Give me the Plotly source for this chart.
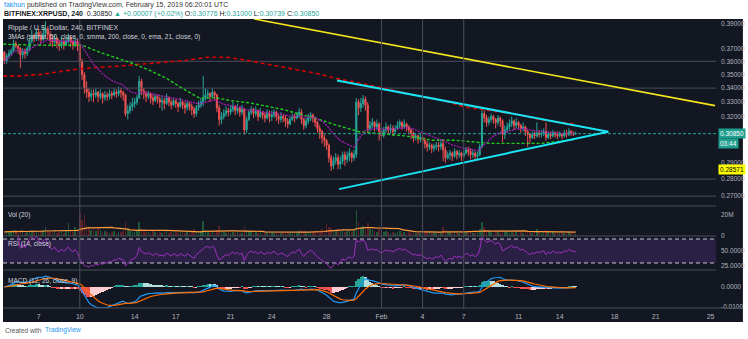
import math
import pandas as pd
import plotly.graph_objects as go
from plotly.subplots import make_subplots

# ---------------- data (4h candles, BITFINEX XRPUSD) ----------------
start_time = "2019-01-04 12:00"
first_open = 0.367

close_days = [
    [0.360, 0.364, 0.366],
    [0.368, 0.374, 0.372, 0.370, 0.365, 0.368],
    [0.366, 0.370, 0.376, 0.380, 0.378, 0.383],
    [0.380, 0.377, 0.382, 0.386, 0.381, 0.377],
    [0.375, 0.378, 0.374, 0.372, 0.376, 0.373],
    [0.376, 0.379, 0.375, 0.373, 0.376, 0.372],
    [0.360, 0.350, 0.340, 0.337, 0.334, 0.336],
    [0.335, 0.337, 0.334, 0.336, 0.333, 0.335],
    [0.334, 0.336, 0.335, 0.337, 0.336, 0.338],
    [0.337, 0.335, 0.322, 0.324, 0.327, 0.329],
    [0.330, 0.333, 0.345, 0.338, 0.336, 0.334],
    [0.336, 0.333, 0.331, 0.334, 0.332, 0.330],
    [0.331, 0.329, 0.333, 0.330, 0.328, 0.331],
    [0.329, 0.327, 0.330, 0.328, 0.326, 0.329],
    [0.327, 0.325, 0.322, 0.326, 0.328, 0.330],
    [0.333, 0.335, 0.336, 0.334, 0.337, 0.335],
    [0.326, 0.318, 0.320, 0.322, 0.324, 0.323],
    [0.325, 0.327, 0.324, 0.326, 0.323, 0.325],
    [0.311, 0.318, 0.323, 0.325, 0.322, 0.324],
    [0.320, 0.323, 0.321, 0.319, 0.322, 0.320],
    [0.321, 0.323, 0.320, 0.318, 0.320, 0.319],
    [0.317, 0.315, 0.318, 0.320, 0.319, 0.321],
    [0.323, 0.318, 0.314, 0.317, 0.319, 0.321],
    [0.319, 0.316, 0.312, 0.310, 0.306, 0.304],
    [0.301, 0.293, 0.288, 0.291, 0.293, 0.289],
    [0.291, 0.295, 0.292, 0.294, 0.296, 0.293],
    [0.295, 0.330, 0.326, 0.329, 0.332, 0.328],
    [0.312, 0.314, 0.316, 0.313, 0.315, 0.310],
    [0.307, 0.311, 0.313, 0.311, 0.312, 0.310],
    [0.312, 0.314, 0.316, 0.313, 0.315, 0.313],
    [0.311, 0.309, 0.306, 0.307, 0.305, 0.306],
    [0.304, 0.302, 0.300, 0.301, 0.299, 0.300],
    [0.301, 0.300, 0.302, 0.298, 0.293, 0.295],
    [0.296, 0.294, 0.297, 0.295, 0.296, 0.294],
    [0.296, 0.298, 0.297, 0.295, 0.296, 0.294],
    [0.295, 0.300, 0.322, 0.319, 0.316, 0.318],
    [0.320, 0.318, 0.316, 0.319, 0.317, 0.308],
    [0.311, 0.313, 0.315, 0.317, 0.314, 0.316],
    [0.314, 0.312, 0.313, 0.310, 0.308, 0.306],
    [0.308, 0.307, 0.309, 0.308, 0.309, 0.310],
    [0.306, 0.308, 0.307, 0.309, 0.308, 0.307],
    [0.308, 0.307, 0.309, 0.308, 0.310, 0.309],
    [0.3083, 0.3085],
]
high_days = [
    [0.368, 0.366, 0.369],
    [0.370, 0.377, 0.376, 0.373, 0.371, 0.370],
    [0.370, 0.372, 0.378, 0.385, 0.382, 0.386],
    [0.386, 0.384, 0.388, 0.392, 0.388, 0.384],
    [0.380, 0.381, 0.379, 0.377, 0.379, 0.378],
    [0.379, 0.382, 0.380, 0.377, 0.379, 0.378],
    [0.374, 0.362, 0.352, 0.345, 0.340, 0.339],
    [0.339, 0.340, 0.338, 0.339, 0.337, 0.338],
    [0.337, 0.339, 0.338, 0.340, 0.339, 0.341],
    [0.340, 0.338, 0.336, 0.328, 0.330, 0.333],
    [0.333, 0.335, 0.349, 0.347, 0.340, 0.338],
    [0.338, 0.337, 0.335, 0.336, 0.335, 0.334],
    [0.334, 0.333, 0.336, 0.334, 0.332, 0.333],
    [0.332, 0.330, 0.333, 0.331, 0.330, 0.331],
    [0.330, 0.329, 0.327, 0.328, 0.331, 0.333],
    [0.349, 0.340, 0.339, 0.337, 0.340, 0.338],
    [0.336, 0.328, 0.323, 0.325, 0.327, 0.326],
    [0.328, 0.330, 0.328, 0.329, 0.327, 0.328],
    [0.326, 0.320, 0.325, 0.327, 0.326, 0.327],
    [0.325, 0.326, 0.324, 0.323, 0.325, 0.324],
    [0.324, 0.325, 0.324, 0.322, 0.323, 0.322],
    [0.321, 0.319, 0.320, 0.322, 0.322, 0.323],
    [0.326, 0.325, 0.319, 0.319, 0.322, 0.323],
    [0.322, 0.320, 0.317, 0.314, 0.311, 0.308],
    [0.305, 0.302, 0.295, 0.294, 0.296, 0.295],
    [0.294, 0.297, 0.297, 0.297, 0.299, 0.297],
    [0.298, 0.333, 0.332, 0.333, 0.335, 0.334],
    [0.330, 0.317, 0.319, 0.317, 0.318, 0.316],
    [0.312, 0.313, 0.316, 0.314, 0.315, 0.314],
    [0.314, 0.317, 0.318, 0.317, 0.318, 0.316],
    [0.314, 0.312, 0.310, 0.309, 0.308, 0.309],
    [0.307, 0.306, 0.304, 0.303, 0.302, 0.302],
    [0.303, 0.303, 0.305, 0.305, 0.300, 0.297],
    [0.298, 0.297, 0.299, 0.298, 0.298, 0.297],
    [0.299, 0.300, 0.300, 0.299, 0.298, 0.297],
    [0.297, 0.302, 0.325, 0.324, 0.321, 0.320],
    [0.322, 0.321, 0.319, 0.321, 0.320, 0.318],
    [0.314, 0.316, 0.318, 0.320, 0.318, 0.319],
    [0.317, 0.315, 0.316, 0.314, 0.311, 0.309],
    [0.310, 0.310, 0.316, 0.311, 0.311, 0.312],
    [0.316, 0.310, 0.310, 0.311, 0.310, 0.310],
    [0.310, 0.309, 0.311, 0.311, 0.312, 0.311],
    [0.3100, 0.3100],
]
low_days = [
    [0.358, 0.358, 0.362],
    [0.364, 0.367, 0.370, 0.366, 0.355, 0.362],
    [0.362, 0.364, 0.368, 0.374, 0.375, 0.376],
    [0.376, 0.373, 0.376, 0.380, 0.377, 0.372],
    [0.371, 0.373, 0.370, 0.368, 0.370, 0.369],
    [0.372, 0.374, 0.371, 0.369, 0.371, 0.368],
    [0.355, 0.346, 0.336, 0.333, 0.330, 0.331],
    [0.330, 0.333, 0.330, 0.332, 0.329, 0.331],
    [0.331, 0.332, 0.332, 0.334, 0.333, 0.334],
    [0.333, 0.331, 0.320, 0.318, 0.322, 0.324],
    [0.326, 0.328, 0.332, 0.335, 0.332, 0.330],
    [0.332, 0.329, 0.328, 0.330, 0.329, 0.326],
    [0.324, 0.325, 0.328, 0.327, 0.325, 0.327],
    [0.326, 0.323, 0.326, 0.325, 0.322, 0.324],
    [0.324, 0.321, 0.319, 0.320, 0.324, 0.326],
    [0.327, 0.331, 0.332, 0.330, 0.333, 0.331],
    [0.323, 0.314, 0.315, 0.318, 0.320, 0.320],
    [0.321, 0.323, 0.321, 0.322, 0.320, 0.321],
    [0.308, 0.309, 0.317, 0.321, 0.319, 0.320],
    [0.317, 0.319, 0.318, 0.316, 0.318, 0.316],
    [0.317, 0.319, 0.317, 0.315, 0.316, 0.316],
    [0.313, 0.312, 0.314, 0.317, 0.316, 0.318],
    [0.319, 0.315, 0.311, 0.312, 0.315, 0.317],
    [0.316, 0.313, 0.309, 0.305, 0.302, 0.300],
    [0.298, 0.290, 0.285, 0.286, 0.289, 0.286],
    [0.286, 0.289, 0.288, 0.290, 0.291, 0.290],
    [0.291, 0.293, 0.321, 0.323, 0.326, 0.324],
    [0.309, 0.310, 0.312, 0.310, 0.311, 0.304],
    [0.304, 0.306, 0.309, 0.308, 0.309, 0.307],
    [0.309, 0.311, 0.312, 0.311, 0.312, 0.310],
    [0.308, 0.305, 0.303, 0.304, 0.302, 0.303],
    [0.301, 0.299, 0.297, 0.298, 0.296, 0.297],
    [0.298, 0.297, 0.298, 0.291, 0.290, 0.292],
    [0.292, 0.291, 0.293, 0.292, 0.293, 0.291],
    [0.293, 0.295, 0.294, 0.292, 0.293, 0.291],
    [0.292, 0.294, 0.299, 0.316, 0.313, 0.314],
    [0.316, 0.315, 0.312, 0.314, 0.313, 0.303],
    [0.305, 0.309, 0.311, 0.313, 0.311, 0.312],
    [0.311, 0.309, 0.310, 0.307, 0.300, 0.302],
    [0.305, 0.305, 0.306, 0.306, 0.306, 0.307],
    [0.304, 0.305, 0.305, 0.306, 0.306, 0.305],
    [0.306, 0.305, 0.306, 0.306, 0.307, 0.307],
    [0.3070, 0.3078],
]
volume_days = [  # millions
    [4, 3.5, 5],
    [4, 6, 3.5, 3, 7, 4],
    [3, 4, 5, 6, 4, 5],
    [4, 5, 6, 9, 5, 4],
    [4, 6, 3, 4, 5, 3],
    [5, 12, 6, 4, 9, 5],
    [22, 15, 20, 10, 7, 6],
    [7, 5, 9, 6, 4, 5],
    [4, 3, 4, 5, 3, 4],
    [4, 5, 13, 7, 5, 4],
    [4, 5, 13, 8, 5, 4],
    [4, 3, 5, 4, 3, 4],
    [3, 4, 5, 3, 4, 3],
    [4, 3, 4, 5, 3, 4],
    [3, 4, 7, 4, 3, 5],
    [14, 6, 4, 3, 4, 3],
    [6, 10, 5, 4, 3, 4],
    [3, 4, 3, 4, 3, 3],
    [9, 6, 5, 4, 3, 4],
    [3, 4, 3, 3, 4, 3],
    [4, 3, 4, 3, 3, 4],
    [3, 4, 3, 4, 3, 3],
    [5, 6, 5, 3, 4, 3],
    [4, 5, 6, 5, 7, 6],
    [11, 9, 8, 6, 5, 7],
    [5, 6, 4, 5, 6, 4],
    [5, 25, 13, 9, 10, 7],
    [12, 7, 6, 5, 4, 7],
    [5, 4, 5, 4, 3, 4],
    [3, 4, 5, 3, 4, 3],
    [4, 3, 4, 3, 4, 3],
    [3, 4, 5, 4, 3, 3],
    [3, 4, 3, 9, 7, 4],
    [4, 3, 4, 3, 3, 4],
    [3, 4, 3, 4, 3, 3],
    [4, 7, 13, 9, 6, 5],
    [4, 3, 5, 4, 3, 7],
    [5, 4, 3, 4, 3, 4],
    [3, 4, 3, 4, 6, 4],
    [3, 4, 7, 5, 3, 4],
    [6, 4, 3, 4, 3, 3],
    [3, 4, 3, 3, 4, 3],
    [3, 2],
]

# moving averages (smma 200 red, smma 50 green)
red_ma_dates = ["2019-01-04 10:00", "2019-01-05 15:00", "2019-01-07 02:00", "2019-01-08 13:00",
                "2019-01-09 19:00", "2019-01-11 06:00", "2019-01-12 17:00", "2019-01-14 09:00",
                "2019-01-16 08:00", "2019-01-17 19:00", "2019-01-19 06:00", "2019-01-20 17:00",
                "2019-01-22 04:00", "2019-01-23 19:00", "2019-01-25 06:00", "2019-01-27 06:00",
                "2019-01-28 17:00", "2019-01-30 14:00", "2019-02-03 12:00", "2019-02-05 10:00",
                "2019-02-07 04:00", "2019-02-09 13:00", "2019-02-10 19:00", "2019-02-12 17:00",
                "2019-02-14 14:00", "2019-02-15 04:00"]
red_ma_vals = [0.349, 0.349, 0.350, 0.352, 0.354, 0.3554, 0.3562, 0.3577, 0.3592, 0.3608,
               0.3631, 0.3631, 0.3608, 0.3577, 0.3546, 0.3508, 0.3471, 0.3434, 0.3348, 0.3313,
               0.3264, 0.3230, 0.3216, 0.3176, 0.3156, 0.3149]
green_ma_dates = ["2019-01-04 10:00", "2019-01-07 02:00", "2019-01-09 05:00", "2019-01-10 05:00",
                  "2019-01-11 11:00", "2019-01-12 17:00", "2019-01-13 20:00", "2019-01-15 02:00",
                  "2019-01-16 08:00", "2019-01-17 12:00", "2019-01-18 17:00", "2019-01-19 23:00",
                  "2019-01-21 02:00", "2019-01-22 10:00", "2019-01-24 18:00", "2019-01-27 06:00",
                  "2019-01-28 17:00", "2019-01-30 09:00", "2019-02-01 01:00", "2019-02-02 19:00",
                  "2019-02-04 16:00", "2019-02-06 10:00", "2019-02-08 02:00", "2019-02-09 00:00",
                  "2019-02-10 19:00", "2019-02-12 16:00", "2019-02-13 22:00", "2019-02-15 04:00"]
green_ma_vals = [0.3734, 0.3725, 0.3725, 0.3725, 0.3670, 0.3623, 0.3585, 0.3532, 0.3471, 0.3397,
                 0.3330, 0.3330, 0.3309, 0.3294, 0.3250, 0.3186, 0.3142, 0.3098, 0.3084, 0.3070,
                 0.3042, 0.3042, 0.3028, 0.3022, 0.3022, 0.3022, 0.3035, 0.3049]

# drawn lines
yellow_line = (["2019-01-22 17:27", "2019-02-25 07:50"], [0.3940, 0.3275])
cyan_upper = (["2019-01-28 18:15", "2019-02-17 13:05"], [0.3456, 0.3098])
cyan_lower = (["2019-01-28 21:49", "2019-02-17 13:05"], [0.2741, 0.3098])
level_lines = [0.36, 0.34, 0.28, 0.27]
vline_dates = ["2019-01-10", "2019-02-01", "2019-02-04", "2019-02-07"]
last_price = 0.3085

tick_dates = ["2019-01-07", "2019-01-10", "2019-01-14", "2019-01-17", "2019-01-21", "2019-01-24",
              "2019-01-28", "2019-02-01", "2019-02-04", "2019-02-07", "2019-02-11", "2019-02-14",
              "2019-02-18", "2019-02-21", "2019-02-25"]
tick_labels = ["7", "10", "14", "17", "21", "24", "28", "Feb", "4", "7", "11", "14", "18", "21", "25"]
price_ticks = [0.27, 0.28, 0.29, 0.32, 0.33, 0.34, 0.35, 0.36, 0.37, 0.39]

x_range = ["2019-01-04 09:36", "2019-02-25 09:36"]

# ---------------- build series ----------------
closes = [v for d in close_days for v in d]
highs = [v for d in high_days for v in d]
lows = [v for d in low_days for v in d]
vols = [v for d in volume_days for v in d]
n = len(closes)
times = pd.date_range(start_time, periods=n, freq="4h")
opens = [first_open] + closes[:-1]
highs = [max(h, o, c) for h, o, c in zip(highs, opens, closes)]
lows = [min(l, o, c) for l, o, c in zip(lows, opens, closes)]

cs = pd.Series(closes, index=times)
ema21 = cs.ewm(span=21, adjust=True).mean()
delta = cs.diff()
gain = delta.clip(lower=0).ewm(alpha=1 / 14, adjust=True).mean()
loss = (-delta.clip(upper=0)).ewm(alpha=1 / 14, adjust=True).mean()
rsi = 100 - 100 / (1 + gain / loss)
macd = cs.ewm(span=12, adjust=False).mean() - cs.ewm(span=26, adjust=False).mean()
signal = macd.ewm(span=9, adjust=False).mean()
hist = macd - signal
vol_ma = pd.Series(vols).rolling(20, min_periods=1).mean()

hist_colors = []
prev = 0.0
for h in hist:
    if h >= 0:
        hist_colors.append("#26a69a" if h >= prev else "#b2dfdb")
    else:
        hist_colors.append("#ffcdd2" if h >= prev else "#ef5350")
    prev = h
vol_colors = ["rgba(38,140,70,0.55)" if c >= o else "rgba(150,40,45,0.55)" for o, c in zip(opens, closes)]

# ---------------- figure ----------------
BG = "#131722"
AX = "#b2b5be"
GRID = "#4a4e5a"
FONT = "Liberation Sans"

fig = make_subplots(rows=4, cols=1, shared_xaxes=True, vertical_spacing=0,
                    row_heights=[187, 30, 34, 38])

xl = pd.to_datetime(x_range)

for lv in level_lines:
    fig.add_trace(go.Scatter(x=xl, y=[lv, lv], mode="lines", line=dict(color=GRID, width=1),
                             hoverinfo="skip"), row=1, col=1)

fig.add_trace(go.Scatter(x=pd.to_datetime(red_ma_dates), y=red_ma_vals, mode="lines",
                         line=dict(color="#d50000", width=1.6, dash="4px,3px")), row=1, col=1)
fig.add_trace(go.Scatter(x=pd.to_datetime(green_ma_dates), y=green_ma_vals, mode="lines",
                         line=dict(color="#1fcc1f", width=1.4, dash="3px,2px")), row=1, col=1)
fig.add_trace(go.Scatter(x=times, y=ema21, mode="lines",
                         line=dict(color="#a020b0", width=1.3, dash="2px,1px")), row=1, col=1)

fig.add_trace(go.Scatter(x=xl, y=[last_price, last_price], mode="lines",
                         line=dict(color="#26a69a", width=1, dash="3px,2px")), row=1, col=1)

fig.add_trace(go.Candlestick(x=times, open=opens, high=highs, low=lows, close=closes,
                             increasing=dict(line=dict(color="#26a69a", width=1), fillcolor="#26a69a"),
                             decreasing=dict(line=dict(color="#ef5350", width=1), fillcolor="#ef5350"),
                             whiskerwidth=0), row=1, col=1)

fig.add_trace(go.Scatter(x=pd.to_datetime(yellow_line[0]), y=yellow_line[1], mode="lines",
                         line=dict(color="#f5e61b", width=1.6)), row=1, col=1)
for ln in (cyan_upper, cyan_lower):
    fig.add_trace(go.Scatter(x=pd.to_datetime(ln[0]), y=ln[1], mode="lines",
                             line=dict(color="#19e6f5", width=2)), row=1, col=1)

# volume
bar_w = 4 * 3600 * 1000
fig.add_trace(go.Bar(x=times, y=vols, marker=dict(color=vol_colors, line=dict(width=0)),
                     width=bar_w * 0.7), row=2, col=1)
fig.add_trace(go.Scatter(x=times, y=vol_ma, mode="lines", line=dict(color="#ff9a3c", width=1.2)),
              row=2, col=1)

# RSI
fig.add_trace(go.Scatter(x=xl, y=[70, 70], mode="lines", line=dict(color="rgba(0,0,0,0)", width=0)),
              row=3, col=1)
fig.add_trace(go.Scatter(x=xl, y=[30, 30], mode="lines", fill="tonexty",
                         fillcolor="rgba(126,70,194,0.22)", line=dict(color="rgba(0,0,0,0)", width=0)),
              row=3, col=1)
for lv in (70, 30):
    fig.add_trace(go.Scatter(x=xl, y=[lv, lv], mode="lines",
                             line=dict(color="#c8c8d0", width=1, dash="4px,3px")), row=3, col=1)
fig.add_trace(go.Scatter(x=times, y=rsi, mode="lines", line=dict(color="#a030c0", width=1)),
              row=3, col=1)

# MACD
fig.add_trace(go.Bar(x=times, y=hist, marker=dict(color=hist_colors, line=dict(width=0)),
                     width=bar_w), row=4, col=1)
fig.add_trace(go.Scatter(x=times, y=macd, mode="lines", line=dict(color="#2196f3", width=1.2)),
              row=4, col=1)
fig.add_trace(go.Scatter(x=times, y=signal, mode="lines", line=dict(color="#ff6d00", width=1.2)),
              row=4, col=1)

# ---------------- layout ----------------
W, H = 748, 339
ML, MR, MT, MB = 3, 30, 19, 31
PW, PH = W - ML - MR, H - MT - MB


def px_x(px):
    return (px - ML) / PW


def px_y(py):
    return (H - MB - py) / PH


fig.update_layout(
    width=W, height=H, margin=dict(l=ML, r=MR, t=MT, b=MB),
    paper_bgcolor="white", plot_bgcolor=BG, showlegend=False, bargap=0,
    font=dict(family=FONT, size=7, color=AX),
    hovermode=False,
)

for i in range(1, 5):
    fig.update_xaxes(row=i, col=1, range=xl, showgrid=False, zeroline=False,
                     rangeslider=dict(visible=False), showline=False, ticks="")
fig.update_xaxes(row=4, col=1, tickmode="array", tickvals=pd.to_datetime(tick_dates),
                 ticktext=tick_labels, tickfont=dict(size=7, color=AX), ticklabelstandoff=3)

lo, hi = math.log10(0.2644), math.log10(0.3940)
fig.update_yaxes(row=1, col=1, type="log", range=[lo, hi], side="right", showgrid=False,
                 zeroline=False, tickmode="array", tickvals=price_ticks,
                 ticktext=[f"{v:.5f}" for v in price_ticks], tickfont=dict(size=6.5, color=AX),
                 ticks="", ticklabelstandoff=4)
fig.update_yaxes(row=2, col=1, range=[0, 28.6], side="right", showgrid=False, zeroline=False,
                 tickmode="array", tickvals=[0, 20], ticktext=["0", "20M"],
                 tickfont=dict(size=6.5, color=AX), ticks="", ticklabelstandoff=4)
fig.update_yaxes(row=3, col=1, range=[18.3, 75], side="right", showgrid=False, zeroline=False,
                 tickmode="array", tickvals=[25, 50], ticktext=["25.0000", "50.0000"],
                 tickfont=dict(size=6.5, color=AX), ticks="", ticklabelstandoff=4)
fig.update_yaxes(row=4, col=1, range=[-0.0105, 0.0085], side="right", showgrid=False, zeroline=False,
                 tickmode="array", tickvals=[-0.01, 0.0], ticktext=["-0.0100", "0.0000"],
                 tickfont=dict(size=6.5, color=AX), ticks="", ticklabelstandoff=4)

shapes = []
shapes.append(dict(type="rect", xref="paper", yref="paper", x0=px_x(3), x1=px_x(745),
                   y0=px_y(322), y1=px_y(19), fillcolor=BG, line=dict(width=0), layer="below"))
for py in (206, 236, 270, 308):
    shapes.append(dict(type="line", xref="paper", yref="paper", x0=0, x1=px_x(745) if py == 308 else 1,
                       y0=px_y(py), y1=px_y(py), line=dict(color=GRID, width=1)))
for d in vline_dates:
    shapes.append(dict(type="line", xref="x", yref="paper", x0=d, x1=d, y0=0, y1=1,
                       line=dict(color=GRID, width=1)))
fig.update_layout(shapes=shapes)

ann = []


def text(px, py, s, size=7, color="#d1d4dc", anchor="left"):
    ann.append(dict(xref="paper", yref="paper", x=px_x(px), y=px_y(py), text=s, showarrow=False,
                    xanchor=anchor, yanchor="middle", font=dict(size=size, color=color, family=FONT)))


G = "#26a69a"
text(2, 5, "<span style='color:#2196f3'>fakhun</span> published on TradingView.com, February 15, 2019 06:20:01 UTC",
     size=7, color="#333333")
text(2, 14, "<b>BITFINEX:XRPUSD, 240</b>  0.30850 <span style='color:%s'>▲ +0.00007 (+0.02%%)</span> "
     "O:<span style='color:%s'>0.30776</span> H:<span style='color:%s'>0.31000</span> "
     "L:<span style='color:%s'>0.30739</span> C:<span style='color:%s'>0.30850</span>" % (G, G, G, G, G),
     size=7, color="#131722")
text(6, 28, "Ripple / U.S. Dollar, 240, BITFINEX", size=7)
text(6, 37, "3MAs (smma, 50, close, 0, smma, 200, close, 0, ema, 21, close, 0)", size=6.5)
text(6, 215, "Vol (20)", size=6.5)
text(6, 244, "RSI (14, close)", size=6.5)
text(6, 281, "MACD (12, 26, close, 9)", size=6.5)
text(3, 330, "Created with", size=6.5, color="#555555")
text(43, 330, "TradingView", size=6.5, color="#2196f3")

for price, s, bg, fc in ((last_price, "0.30850", "#1f9e8f", "white"),
                         (0.3019, "03:44", "#1f9e8f", "white"),
                         (0.2857, "0.28571", "#ffff00", "black")):
    ann.append(dict(xref="paper", yref="y", x=px_x(720), y=math.log10(price), text=s, showarrow=False,
                    xanchor="left", yanchor="middle", bgcolor=bg, borderpad=1,
                    font=dict(size=6.5, color=fc, family=FONT)))
fig.update_layout(annotations=ann)

fig.write_html("out.html")
